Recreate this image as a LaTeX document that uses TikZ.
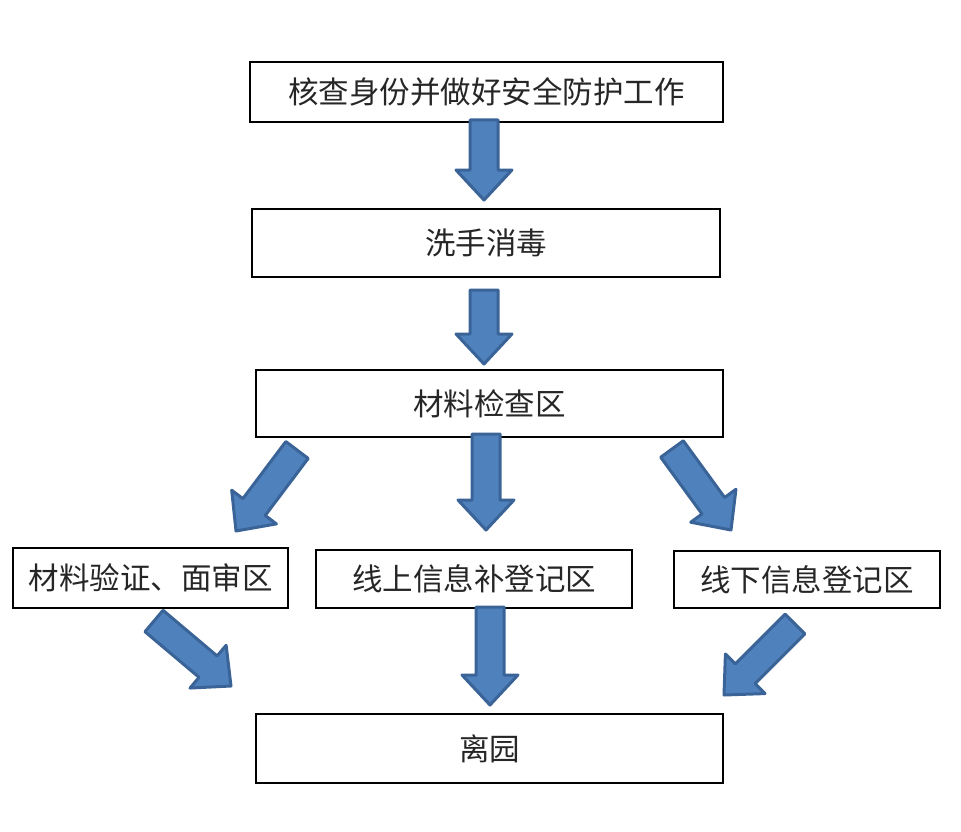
\documentclass[tikz,border=0pt]{standalone}
\usepackage{fontspec}
\newfontfamily\cjk{Noto Sans CJK SC}
\usetikzlibrary{calc}
\definecolor{arrowfill}{HTML}{4F81BD}
\definecolor{arrowline}{HTML}{3A6497}
\tikzset{
  box/.style={draw,line width=1.6pt,inner sep=0pt,text=black!85,font=\cjk\fontsize{30.5}{36}\selectfont},
  blockarrow/.style={fill=arrowfill,draw=arrowline,line width=3pt,line join=round}
}
\newcommand\blockarrow[2]{%
  \coordinate (hb) at ($(#2)!30pt!(#1)$);
  \draw[blockarrow] ($(#1)!14pt!90:(#2)$)--($(hb)!14pt!90:(#2)$)--($(hb)!28pt!90:(#2)$)
    --(#2)--($(hb)!28pt!-90:(#2)$)--($(hb)!14pt!-90:(#2)$)--($(#1)!14pt!-90:(#2)$)--cycle;}

\begin{document}
\begin{tikzpicture}[x=1pt,y=-1pt]
        \useasboundingbox(0,0)rectangle(961,832);
        \node[box,minimum width=473pt,minimum height=60pt](check)at(486.5,92){核查身份并做好安全防护工作};
        \node[box,minimum width=468pt,minimum height=68pt](wash)at(486,243){洗手消毒};
        \node[box,minimum width=467pt,minimum height=67pt](docs)at(489.5,403.5){材料检查区};
        \node[box,minimum width=275pt,minimum height=60pt](verify)at(150.5,578){材料验证、面审区};
        \node[box,minimum width=316pt,minimum height=58pt](online)at(474,579){线上信息补登记区};
        \node[box,minimum width=266pt,minimum height=57pt](offline)at(807,579.5){线下信息登记区};
        \node[box,minimum width=467pt,minimum height=69pt](leave)at(489.5,748.5){离园};
        % block arrows
        \coordinate(a1s)at(484,120);\coordinate(a1e)at(484,200);
        \coordinate(a2s)at(484,290);\coordinate(a2e)at(484,364);
        \coordinate(a3s)at(297,450);\coordinate(a3e)at(236,531);
        \coordinate(a4s)at(486,434);\coordinate(a4e)at(486,530);
        \coordinate(a5s)at(672,449);\coordinate(a5e)at(731,530);
        \coordinate(a6s)at(154,621);\coordinate(a6e)at(231,686);
        \coordinate(a7s)at(490,607);\coordinate(a7e)at(490,705);
        \coordinate(a8s)at(795,624);\coordinate(a8e)at(724,695);
        \foreach \i in {1,...,8}{\blockarrow{a\i s}{a\i e}}
    \end{tikzpicture}
\end{document}
